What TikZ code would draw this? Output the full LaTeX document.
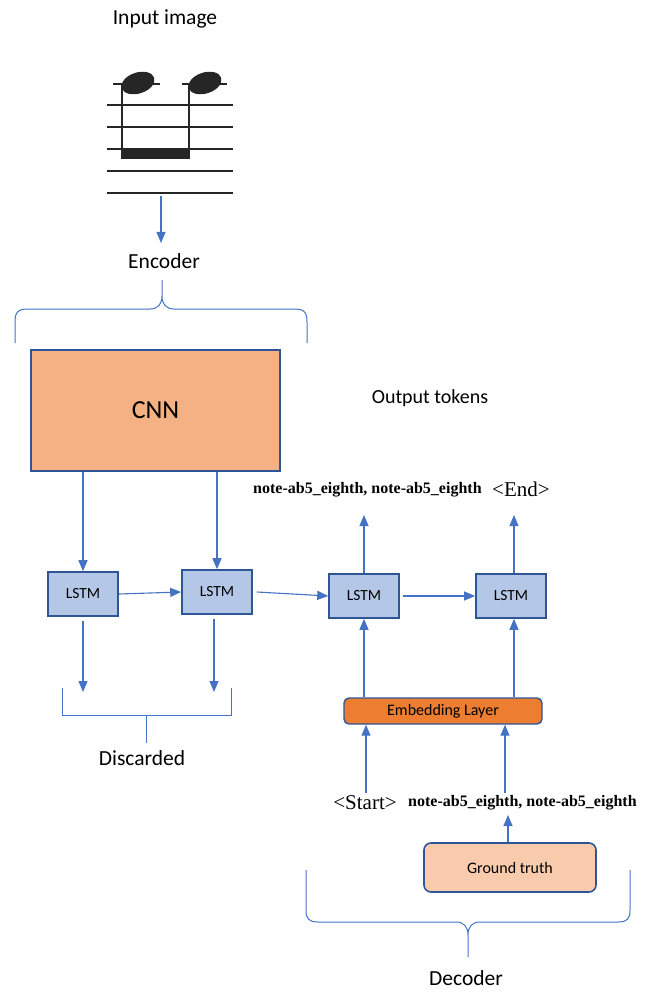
\documentclass[tikz,border=0pt]{standalone}
\usepackage{fontspec}
\setmainfont{Carlito}
\newfontfamily\timesfont{Liberation Serif}
\usetikzlibrary{arrows.meta}
\definecolor{lineblue}{HTML}{4472C4}
\definecolor{edgeblue}{HTML}{2F5597}
\definecolor{cnnfill}{HTML}{F4B183}
\definecolor{lstmfill}{HTML}{B4C7E7}
\definecolor{embfill}{HTML}{ED7D31}
\definecolor{gtfill}{HTML}{F8CBAD}
\tikzset{
  conn/.style={lineblue, line width=1.1pt, -{Triangle[width=9pt,length=11pt]}},
  brace/.style={lineblue, line width=1pt},
  lstmbox/.style={draw=edgeblue, line width=1.6pt, fill=lstmfill, minimum width=70pt, minimum height=44pt, inner sep=0pt, font=\fontsize{15.5}{17}\selectfont},
  lbl/.style={inner sep=0pt, font=\fontsize{21.5}{24}\selectfont},
  tok/.style={inner sep=0pt, font=\timesfont\bfseries\fontsize{16}{18}\selectfont},
  tag/.style={inner sep=0pt, font=\timesfont\fontsize{21}{23}\selectfont},
}
\begin{document}
\begin{tikzpicture}[x=1pt, y=-1pt]
\useasboundingbox (0,0) rectangle (650,992);

% ---- input image: two beamed eighth notes on a staff ----
\node[lbl] (inlbl) at (165,19) {Input image};
\foreach \yy in {105,127,149,171,193}
  \draw[line width=2.6pt, black!85] (107,\yy) -- (233,\yy);
\fill[black!85] (122,149) rectangle (190,159);
\draw[line width=2.4pt, black!85] (122,84) -- (122,159);
\draw[line width=2.4pt, black!85] (189,84) -- (189,159);
\draw[line width=2.4pt, black!85] (113,84) -- (160,84);
\draw[line width=2.4pt, black!85] (182,84) -- (227,84);
\fill[black!85, rotate around={18:(138,83)}] (138,83) ellipse [x radius=17pt, y radius=10.5pt];
\fill[black!85, rotate around={18:(205,83)}] (205,83) ellipse [x radius=17pt, y radius=10.5pt];
\coordinate (staff) at (161,196);

% ---- encoder ----
\node[lbl] (enclbl) at (164,261) {Encoder};
\draw[conn] (staff) -- (161,243);
\draw[brace] (15,343) -- (15,322) .. controls (15,312) and (18,309) .. (28,309)
  -- (150,309) .. controls (158,309) and (162,304) .. (162,296) -- (162,280)
  (162,296) .. controls (162,304) and (166,309) .. (174,309)
  -- (294,309) .. controls (304,309) and (307,312) .. (307,322) -- (307,343);

\node[draw=edgeblue, line width=1.8pt, fill=cnnfill, minimum width=249pt, minimum height=121pt,
      inner sep=0pt, font=\fontsize{26}{30}\selectfont] (cnn) at (155.5,410.5) {CNN};

\node[lstmbox] (l1) at (83,594) {LSTM};
\node[lstmbox] (l2) at (217,592) {LSTM};
\node[lstmbox] (l3) at (364,596) {LSTM};
\node[lstmbox] (l4) at (511,596) {LSTM};

\draw[conn] (cnn.south -| l1) -- (l1.north);
\draw[conn] (cnn.south -| l2) -- (l2.north);
\draw[conn] (l1.east) -- (l2.west);
\draw[conn] ([xshift=4pt]l2.east) -- (l3.west);
\draw[conn] ([xshift=3pt]l3.east) -- (l4.west);

% ---- discarded outputs ----
\coordinate (d1) at (83,692);
\coordinate (d2) at (214,692);
\draw[conn] ([yshift=-4pt]l1.south) -- (d1);
\draw[conn] ([yshift=-4pt]l2.south -| d2) -- (d2);
\draw[brace] (62,688) -- (62,715) -- (231,715) -- (231,688) (146,715) -- (146,743);
\node[lbl] (disc) at (142,758) {Discarded};

% ---- decoder ----
\node[lbl, font=\fontsize{20}{23}\selectfont] (outlbl) at (430,398) {Output tokens};
\node[tok, anchor=west] (out1) at (253,490) {note-ab5\_eighth, note-ab5\_eighth};
\node[tag, anchor=west] (out2) at (492,489) {<End>};
\draw[conn] (l3.north) -- (364,515);
\draw[conn] (l4.north -| 514,0) -- (514,515);

\node[draw=edgeblue, line width=1.4pt, fill=embfill, rounded corners=5pt, minimum width=198pt,
      minimum height=26pt, inner sep=0pt, font=\fontsize{16}{18}\selectfont] (emb) at (443,711) {Embedding Layer};
\draw[conn] (emb.north -| l3) -- (l3.south);
\draw[conn] (emb.north -| 514,0) -- (l4.south -| 514,0);

\node[tag] (start) at (365,803) {<Start>};
\node[tok, anchor=west] (gtok) at (408,803) {note-ab5\_eighth, note-ab5\_eighth};
\draw[conn] (366,793) -- (emb.south -| 366,0);
\draw[conn] (505,793) -- (emb.south -| 505,0);

\node[draw=edgeblue, line width=1.6pt, fill=gtfill, rounded corners=7pt, minimum width=172pt,
      minimum height=49pt, inner sep=0pt, font=\fontsize{16}{18}\selectfont] (gt) at (510,867.5) {Ground truth};
\draw[conn] (gt.north -| 508,0) -- (508,815);

\draw[brace] (306,870) -- (306,910) .. controls (306,919) and (309,922) .. (318,922)
  -- (456,922) .. controls (464,922) and (468,927) .. (468,935) -- (468,957)
  (468,935) .. controls (468,927) and (472,922) .. (480,922)
  -- (618,922) .. controls (627,922) and (630,919) .. (630,910) -- (630,870);
\node[lbl] (declbl) at (466,978) {Decoder};
\end{tikzpicture}
\end{document}
